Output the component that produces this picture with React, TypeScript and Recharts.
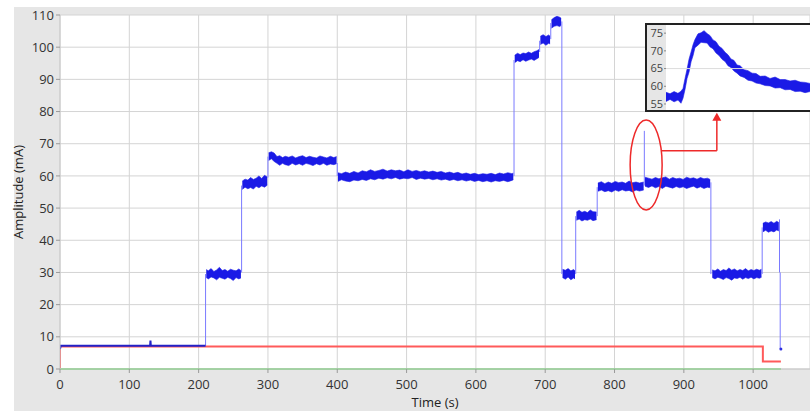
import { ComposedChart, Line, Area, XAxis, YAxis, CartesianGrid, ReferenceDot, ReferenceLine } from "recharts";

// noisy plateaus, [time, low, high] of the blue band
const segA = [[211, 28.4, 30.9], [214, 28.0, 30.5], [218, 28.6, 31.2], [222, 28.3, 30.3], [226, 27.7, 30.8], [230, 28.5, 31.6], [234, 28.2, 30.6], [238, 27.9, 30.9], [242, 28.5, 30.4], [246, 28.1, 31.0], [250, 27.5, 30.7], [254, 28.4, 30.5], [258, 28.0, 31.1], [261, 28.3, 30.6]];
const segB = [[263, 55.8, 58.4], [267, 56.5, 59.0], [271, 56.0, 58.7], [275, 56.4, 59.5], [279, 55.9, 58.9], [283, 56.8, 59.3], [287, 56.3, 60.0], [291, 56.9, 59.2], [295, 56.5, 60.2], [299, 57.1, 59.7]];
const segC = [[301, 64.8, 67.2], [305, 65.3, 67.5], [309, 64.5, 67.1], [313, 63.9, 66.0], [317, 63.3, 66.3], [321, 63.9, 65.7], [325, 63.5, 66.1], [330, 63.2, 65.8], [335, 63.9, 66.2], [340, 63.4, 65.6], [345, 63.8, 66.0], [350, 63.3, 66.3], [355, 63.9, 65.7], [360, 63.6, 66.1], [365, 63.2, 65.8], [370, 63.8, 65.6], [375, 63.4, 66.2], [380, 63.9, 65.9], [385, 63.3, 65.6], [390, 63.7, 66.1], [395, 63.5, 65.7], [399, 63.8, 66.0]];
const segD = [[401, 58.3, 61.0], [406, 58.8, 60.7], [412, 58.4, 61.2], [418, 58.2, 60.8], [424, 58.7, 61.4], [430, 58.5, 60.9], [436, 58.9, 61.6], [442, 58.6, 61.3], [448, 59.1, 61.9], [454, 58.8, 61.4], [460, 59.3, 61.7], [466, 59.0, 62.1], [472, 59.4, 61.5], [478, 59.1, 61.9], [484, 59.5, 61.6], [490, 59.0, 61.8], [496, 59.3, 61.3], [502, 59.1, 61.9], [508, 59.5, 61.4], [514, 58.9, 61.7], [520, 59.3, 61.3], [526, 59.0, 61.6], [532, 59.2, 61.2], [538, 58.8, 61.5], [544, 59.1, 61.1], [550, 58.7, 61.4], [556, 59.0, 60.9], [562, 58.6, 61.2], [568, 58.9, 60.8], [574, 58.5, 61.1], [580, 58.8, 60.6], [586, 58.4, 60.9], [592, 58.7, 60.5], [598, 58.3, 60.8], [604, 58.6, 60.4], [610, 58.2, 60.7], [616, 58.5, 60.5], [622, 58.1, 60.8], [628, 58.5, 60.4], [634, 58.3, 60.9], [640, 58.6, 60.6], [646, 58.2, 61.0], [652, 58.6, 60.7], [654, 58.8, 60.9]];
const segE = [[656, 95.2, 97.5], [660, 95.8, 98.1], [664, 95.5, 97.7], [668, 96.1, 98.2], [672, 95.6, 98.0], [676, 96.0, 98.5], [680, 96.3, 98.1], [684, 95.9, 98.6], [688, 96.4, 98.9], [691, 96.8, 99.3]];
const segF = [[693, 100.8, 103.4], [697, 101.3, 103.9], [701, 100.6, 103.3], [705, 101.2, 103.8], [707, 101.0, 103.4]];
const segG = [[709, 105.9, 108.5], [713, 106.5, 109.2], [717, 106.7, 109.6], [721, 106.4, 109.3], [723, 106.8, 109.0]];
const segH = [[725, 28.4, 31.0], [729, 27.9, 30.7], [733, 28.6, 31.2], [737, 27.7, 30.5], [741, 28.3, 30.9], [743, 28.0, 30.5]];
const segI = [[745, 46.2, 48.8], [749, 46.6, 49.3], [753, 46.0, 48.7], [757, 46.4, 49.0], [761, 46.2, 48.6], [765, 46.6, 49.4], [769, 46.1, 48.9], [774, 46.4, 48.8]];
const segJ = [[776, 55.2, 57.8], [781, 55.6, 58.2], [786, 55.1, 57.6], [791, 55.4, 58.1], [796, 55.0, 57.7], [801, 55.6, 58.3], [806, 55.2, 57.9], [811, 55.7, 58.1], [816, 55.3, 57.7], [821, 55.5, 58.4], [826, 55.0, 57.9], [831, 55.6, 58.1], [836, 55.3, 57.8], [842, 55.6, 58.1]];
const segK = [[844, 56.8, 59.6], [849, 56.4, 59.3], [854, 56.9, 59.0], [859, 56.3, 59.5], [864, 56.7, 59.1], [869, 56.1, 59.4], [874, 56.8, 59.7], [879, 56.5, 59.0], [884, 56.2, 59.5], [889, 56.7, 59.1], [894, 56.3, 59.3], [899, 56.6, 58.9], [904, 56.1, 59.6], [909, 56.5, 59.2], [914, 56.8, 59.4], [919, 56.2, 59.0], [924, 56.6, 59.5], [929, 56.1, 59.1], [934, 56.5, 59.3], [938, 56.3, 58.9]];
const segL = [[941, 28.4, 30.8], [945, 28.0, 30.5], [949, 28.5, 31.1], [953, 28.2, 30.4], [957, 27.8, 30.9], [961, 28.4, 30.6], [965, 28.1, 31.4], [969, 27.6, 30.7], [973, 28.3, 31.1], [977, 28.1, 30.5], [981, 28.5, 30.9], [985, 27.9, 30.6], [989, 28.4, 31.2], [993, 28.1, 30.5], [997, 28.5, 30.9], [1001, 28.0, 30.6], [1005, 28.4, 31.0], [1009, 28.2, 30.7], [1012, 28.5, 31.0]];
const segM = [[1014, 42.6, 45.3], [1018, 43.1, 45.7], [1022, 42.5, 45.4], [1026, 42.9, 45.8], [1030, 42.6, 45.3], [1034, 43.2, 45.9], [1037, 42.9, 45.5]];
const segments = [segA, segB, segC, segD, segE, segF, segG, segH, segI, segJ, segK, segL, segM];

// quiet baseline before the first step
const baseline = [[0, 6.2], [1, 7.2], [130, 7.2], [130.5, 8.8], [131, 7.3], [210, 7.2]];
// vertical jumps between plateaus [time, from, to]
const jumps = [[210, 7.2, 29.5], [262, 30, 57], [300, 59.5, 66], [400, 64, 60], [655, 60, 96], [692, 98.5, 102], [708, 102.5, 107.5], [724, 108, 29.5], [744, 29.5, 47.5], [775, 47.5, 56.5], [843, 57, 74], [939, 58, 29.5], [1013, 29.5, 44], [1038, 46.5, 30], [1039, 30, 6.2]];
const control = [[0, 0], [0, 7], [1014, 7], [1014, 2.3], [1040, 2.3]];
const zero = [[0, 0], [1040, 0]];

const xTicks = [0, 100, 200, 300, 400, 500, 600, 700, 800, 900, 1000];
const yTicks = [0, 10, 20, 30, 40, 50, 60, 70, 80, 90, 100, 110];

// inset: zoom on the spike near 843 s, [u, low, high]
const insetBand = [[0, 55.7, 58.3], [2.8, 56.3, 57.9], [5.6, 55.6, 58.5], [8.3, 56.1, 58.0], [10.4, 55.2, 58.6], [11.8, 56.6, 59.4], [13.2, 59.1, 62.2], [14.6, 62.2, 64.8], [16, 64.0, 67.7], [17.4, 66.9, 69.7], [18.8, 68.7, 71.8], [20.1, 70.9, 73.2], [22.2, 71.6, 74.8], [24.3, 72.4, 75.1], [26.4, 72.3, 75.7], [28.5, 72.2, 74.9], [30.6, 71.1, 74.3], [32.6, 70.6, 73.1], [34.7, 69.4, 72.6], [36.8, 68.7, 71.3], [38.9, 67.6, 70.7], [41, 67.0, 69.6], [43, 65.8, 68.9], [45.1, 65.3, 67.7], [47.2, 64.3, 67.3], [49.3, 63.7, 66.0], [51.4, 62.9, 65.8], [54.2, 62.5, 64.7], [56.9, 61.7, 64.4], [59.7, 61.5, 63.7], [62.5, 60.9, 63.6], [65.3, 60.7, 62.8], [68.8, 60.2, 62.9], [72.2, 60.1, 62.2], [75.7, 59.5, 62.6], [79.2, 59.6, 61.9], [82.6, 59.0, 61.9], [86.1, 59.1, 61.5], [89.6, 58.5, 61.7], [93.1, 58.6, 61.2], [96.5, 58.2, 61.1], [100, 58.5, 60.8], [102.8, 58.3, 61.0]];
const insetTicks = [55, 60, 65, 70, 75];

const rows: any[] = [];
segments.forEach(seg => {
    seg.forEach(([t, lo, hi]) => rows.push({ t, band: [lo, hi] }));
    rows.push({ t: seg[seg.length - 1][0], band: null });
});
baseline.forEach(([t, v]) => rows.push({ t, base: v }));
jumps.forEach(([t, a, b]) => {
    rows.push({ t, jump: a });
    rows.push({ t, jump: b });
    rows.push({ t, jump: null });
});
control.forEach(([t, v]) => rows.push({ t, ctrl: v }));
zero.forEach(([t, v]) => rows.push({ t, zero: v }));

const insetRows = insetBand.map(([u, lo, hi]) => ({ u, band: [lo, hi] }));

const font = "'Open Sans', 'Noto Sans', sans-serif";

export default function App() {
    return (
        <div style={{ position: "absolute", left: 0, top: 0, width: 810, height: 411, overflow: "hidden", background: "#fff", fontFamily: font }}>
            <div style={{ position: "absolute", left: 14, top: 7, right: 0, bottom: 0, background: "#e6e6e6" }} />
            <div style={{ position: "absolute", left: 0, top: 0 }}>
                <ComposedChart width={810} height={411} data={rows} margin={{ top: 15, right: 0, bottom: 0, left: 0 }}>
                    <CartesianGrid stroke="#d4d4d4" fill="#fff" />
                    <XAxis
                        dataKey="t"
                        type="number"
                        domain={[0, 1082]}
                        ticks={xTicks}
                        allowDataOverflow
                        height={42}
                        tickSize={4}
                        tickMargin={7}
                        axisLine={{ stroke: "#c8c8c8" }}
                        tickLine={{ stroke: "#999" }}
                        tick={{ fill: "#333", fontSize: 13, fontFamily: font }}
                        label={{ value: "Time (s)", position: "insideBottom", offset: 4, fill: "#222", fontSize: 13, fontFamily: font }}
                    />
                    <YAxis
                        type="number"
                        domain={[0, 110]}
                        ticks={yTicks}
                        width={60}
                        tickSize={4}
                        tickMargin={2}
                        axisLine={{ stroke: "#c8c8c8" }}
                        tickLine={{ stroke: "#999" }}
                        tick={{ fill: "#333", fontSize: 13, fontFamily: font }}
                        label={{ value: "Amplitude (mA)", angle: -90, position: "insideLeft", offset: 18, fill: "#222", fontSize: 13, fontFamily: font, style: { textAnchor: "middle" } }}
                    />
                    <Line dataKey="ctrl" stroke="#ff5a5a" strokeWidth={2} dot={false} activeDot={false} isAnimationActive={false} />
                    <Line dataKey="zero" stroke="#5fd65f" strokeWidth={1.5} dot={false} activeDot={false} isAnimationActive={false} />
                    <Line dataKey="jump" stroke="#7a7aff" strokeWidth={1} dot={false} activeDot={false} isAnimationActive={false} />
                    <Area dataKey="band" type="linear" stroke="#1e1ee6" strokeWidth={0.6} fill="#1a1ae6" fillOpacity={1} dot={false} activeDot={false} isAnimationActive={false} />
                    <Line dataKey="base" stroke="#2222c8" strokeWidth={2} dot={false} activeDot={false} isAnimationActive={false} />
                    <ReferenceDot x={1040} y={6.2} r={1.5} fill="#3030e0" stroke="none" />
                    <ReferenceDot x={845.6} y={63.4} ifOverflow="visible" shape={(p: any) => <ellipse cx={p.cx} cy={p.cy} rx={16} ry={45} fill="none" stroke="#ee2a2a" strokeWidth={1.5} />} />
                    <ReferenceLine segment={[{ x: 868, y: 67.8 }, { x: 947.6, y: 67.8 }]} stroke="#ee2a2a" strokeWidth={1.5} />
                    <ReferenceLine segment={[{ x: 947.6, y: 67.8 }, { x: 947.6, y: 77.4 }]} stroke="#ee2a2a" strokeWidth={1.5} />
                    <ReferenceDot x={947.6} y={79.6} ifOverflow="visible" shape={(p: any) => <polygon points={`${p.cx},${p.cy} ${p.cx - 4.5},${p.cy + 8} ${p.cx + 4.5},${p.cy + 8}`} fill="#ee2a2a" />} />
                </ComposedChart>
            </div>
            <div style={{ position: "absolute", left: 645, top: 23, width: 170, height: 89, border: "2px solid #222", boxSizing: "border-box", background: "#e6e6e6" }}>
                <ComposedChart width={166} height={85} data={insetRows} margin={{ top: 0, right: 0, bottom: 0, left: 0 }}>
                    <CartesianGrid horizontal={false} vertical={false} fill="#fff" />
                    <XAxis dataKey="u" type="number" domain={[0, 102]} hide allowDataOverflow />
                    <YAxis
                        type="number"
                        domain={[53.3, 77.3]}
                        ticks={insetTicks}
                        width={19}
                        allowDataOverflow
                        tickSize={2}
                        tickMargin={1}
                        axisLine={false}
                        tickLine={{ stroke: "#888" }}
                        tick={{ fill: "#444", fontSize: 11, fontFamily: font }}
                    />
                    <ReferenceLine y={65} stroke="#dcdcdc" />
                    <Area dataKey="band" type="linear" stroke="#1e1ee6" strokeWidth={0.6} fill="#1a1ae6" fillOpacity={1} dot={false} activeDot={false} isAnimationActive={false} />
                </ComposedChart>
            </div>
        </div>
    );
}
